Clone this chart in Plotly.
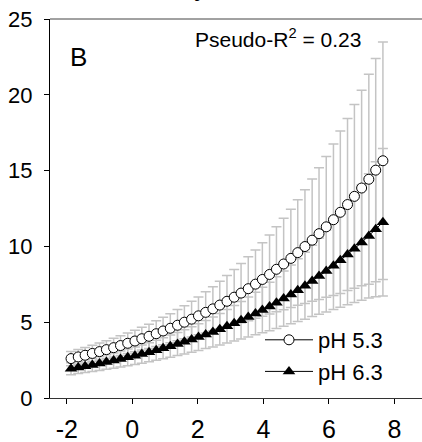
import plotly.graph_objects as go

x_vals = [-1.87, -1.65, -1.44, -1.22, -1.0, -0.79, -0.57, -0.36, -0.14, 0.08, 0.29, 0.51, 0.73, 0.94,
          1.16, 1.38, 1.59, 1.81, 2.02, 2.24, 2.46, 2.67, 2.89, 3.11, 3.32, 3.54, 3.76, 3.97, 4.19,
          4.4, 4.62, 4.84, 5.05, 5.27, 5.49, 5.7, 5.92, 6.14, 6.35, 6.57, 6.78, 7.0, 7.22, 7.43, 7.65]

ph53 = [2.60, 2.71, 2.82, 2.94, 3.06, 3.19, 3.32, 3.46, 3.61, 3.76, 3.91, 4.07, 4.24, 4.42, 4.60,
        4.80, 5.00, 5.20, 5.42, 5.65, 5.88, 6.13, 6.38, 6.65, 6.92, 7.21, 7.51, 7.82, 8.15, 8.49,
        8.84, 9.21, 9.59, 9.99, 10.41, 10.84, 11.29, 11.76, 12.25, 12.76, 13.30, 13.85, 14.43,
        15.03, 15.65]
err53 = [0.47, 0.49, 0.51, 0.54, 0.56, 0.59, 0.62, 0.65, 0.68, 0.71, 0.75, 0.80, 0.85, 0.91, 0.96,
         1.03, 1.09, 1.18, 1.25, 1.36, 1.46, 1.57, 1.70, 1.82, 1.96, 2.11, 2.25, 2.42, 2.61, 2.80,
         3.02, 3.24, 3.48, 3.75, 4.03, 4.34, 4.64, 5.00, 5.36, 5.67, 6.06, 6.45, 6.92, 7.36, 7.83]

ph63 = [1.93, 2.01, 2.10, 2.18, 2.27, 2.37, 2.47, 2.57, 2.68, 2.79, 2.90, 3.02, 3.15, 3.28, 3.42,
        3.56, 3.71, 3.86, 4.02, 4.19, 4.36, 4.54, 4.73, 4.93, 5.13, 5.35, 5.57, 5.80, 6.04, 6.29,
        6.56, 6.83, 7.11, 7.41, 7.72, 8.04, 8.37, 8.72, 9.08, 9.46, 9.85, 10.26, 10.69, 11.13, 11.59]
err63 = [0.39, 0.40, 0.42, 0.44, 0.46, 0.48, 0.50, 0.53, 0.55, 0.58, 0.60, 0.63, 0.66, 0.69, 0.73,
         0.76, 0.80, 0.84, 0.88, 0.93, 0.99, 1.04, 1.10, 1.17, 1.24, 1.32, 1.40, 1.50, 1.60, 1.70,
         1.82, 1.94, 2.07, 2.21, 2.35, 2.52, 2.70, 2.89, 3.09, 3.31, 3.55, 3.81, 4.10, 4.45, 4.87]

x_ticks = [-2, 0, 2, 4, 6, 8]
x_tick_labels = ["-2", "0", "2", "4", "6", "8"]
y_ticks = [0, 5, 10, 15, 20, 25]
y_tick_labels = ["0", "5", "10", "15", "20", "25"]

FONT = "Liberation Sans, Arial, sans-serif"
ERR_COLOR = "#c4c4c4"

fig = go.Figure()

for ys, es in [(ph53, err53), (ph63, err63)]:
    fig.add_trace(go.Scatter(
        x=x_vals, y=ys, mode="markers",
        marker=dict(color="rgba(0,0,0,0)", size=1),
        error_y=dict(type="data", array=es, visible=True, color=ERR_COLOR, thickness=1.5, width=5),
        showlegend=False, hoverinfo="skip"))

fig.add_trace(go.Scatter(
    x=x_vals, y=ph53, mode="lines+markers", name="pH 5.3",
    line=dict(color="black", width=1),
    marker=dict(symbol="circle", size=10, color="white", line=dict(color="black", width=1))))
fig.add_trace(go.Scatter(
    x=x_vals, y=ph63, mode="lines+markers", name="pH 6.3",
    line=dict(color="black", width=1),
    marker=dict(symbol="triangle-up", size=11, color="black", line=dict(color="black", width=0))))

fig.update_layout(
    width=422, height=442,
    margin=dict(l=50, r=0, t=19, b=44),
    paper_bgcolor="white", plot_bgcolor="white",
    font=dict(family=FONT, color="black"),
    showlegend=True,
    legend=dict(x=(260 - 50) / 372, y=(398 - 319) / 379, xanchor="left", yanchor="top",
                bgcolor="rgba(0,0,0,0)", font=dict(size=22, family=FONT),
                itemwidth=48),
    xaxis=dict(range=[-2.512, 8.843], tickvals=x_ticks, ticktext=x_tick_labels,
               ticks="outside", ticklen=5,
               tickcolor="black", showline=True, linecolor="#333333", linewidth=1,
               showgrid=False, zeroline=False, tickfont=dict(size=25, family=FONT),
               ticklabelstandoff=4),
    yaxis=dict(range=[0, 25], tickvals=y_ticks, ticktext=y_tick_labels,
               ticks="outside", ticklen=5,
               tickcolor="black", showline=True, linecolor="black", linewidth=1,
               showgrid=False, zeroline=False, tickfont=dict(size=22, family=FONT),
               ticklabelstandoff=7),
    shapes=[dict(type="line", xref="paper", yref="paper", x0=0, x1=1, y0=1, y1=1,
                 line=dict(color="#444444", width=1))],
    annotations=[
        dict(text="<b>y</b>", xref="paper", yref="paper", x=(200 - 50) / 372, y=(398 - 3) / 379,
             xanchor="center", yanchor="bottom", showarrow=False, font=dict(size=22, family=FONT)),
        dict(text="Pseudo-R<sup>2</sup> = 0.23", xref="paper", yref="paper",
             x=(193 - 50) / 372, y=(398 - 38) / 379, xanchor="left", yanchor="middle",
             showarrow=False, font=dict(size=21, family=FONT)),
        dict(text="B", xref="paper", yref="paper", x=(68 - 50) / 372, y=(398 - 57) / 379,
             xanchor="left", yanchor="middle", showarrow=False, font=dict(size=26, family=FONT)),
    ],
)

fig.write_html("out.html")
